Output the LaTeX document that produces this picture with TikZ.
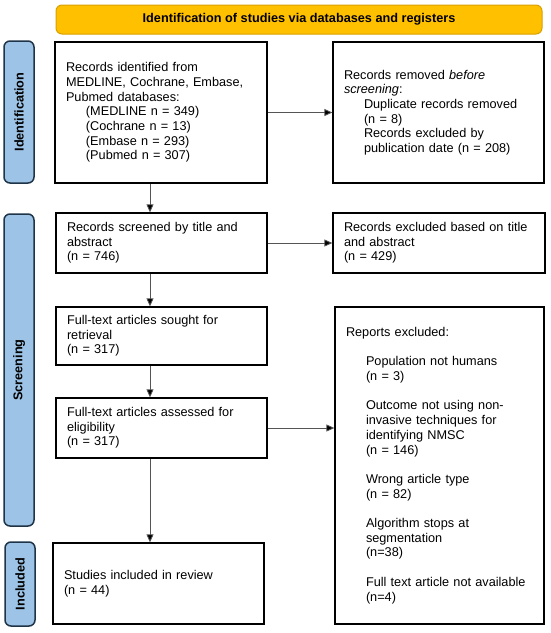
\documentclass[tikz,border=0pt]{standalone}
\usepackage{fontspec}
\setmainfont{Liberation Sans}
\usetikzlibrary{arrows.meta}
\definecolor{bannerfill}{HTML}{FFC000}
\definecolor{bannerdraw}{HTML}{D9A000}
\definecolor{sidefill}{HTML}{9DC3E6}
\definecolor{sidedraw}{HTML}{1F3447}
\definecolor{arrline}{HTML}{555555}
\newcommand{\ind}{\hspace*{20pt}}
\tikzset{
  box/.style={draw=black, line width=1.3pt, fill=white, rectangle, align=left,
    inner xsep=11pt, inner ysep=0pt, font=\fontsize{12.7}{14.7}\selectfont},
  sidebar/.style={draw=sidedraw, line width=1.5pt, fill=sidefill, rounded corners=6pt,
    inner sep=0pt, font=\bfseries\fontsize{12.7}{14.7}\selectfont},
  banner/.style={draw=bannerdraw, line width=1pt, fill=bannerfill, rounded corners=6pt,
    inner sep=0pt, font=\bfseries\fontsize{12.7}{14.7}\selectfont},
  arr/.style={draw=arrline, line width=0.8pt, -{Triangle[length=8pt,width=7pt,fill=black]}},
}
\begin{document}
\begin{tikzpicture}[x=1pt,y=-1pt]
\fill[white] (0,0) rectangle (550,633);
\useasboundingbox (0,0) rectangle (550,633);

\node[banner, minimum width=486pt, minimum height=29pt] (ban) at (299,19.5) {Identification of studies via databases and registers};

\node[sidebar, minimum width=30pt, minimum height=142pt] (sid1) at (19,112) {};
\node[rotate=90, font=\bfseries\fontsize{12.7}{14.7}\selectfont] (sid1t) at (sid1.center) {Identification};
\node[sidebar, minimum width=30pt, minimum height=312pt] (sid2) at (19,370) {};
\node[rotate=90, font=\bfseries\fontsize{12.7}{14.7}\selectfont] (sid2t) at (sid2.center) {Screening};
\node[sidebar, minimum width=30pt, minimum height=84pt] (sid3) at (20,584) {};
\node[rotate=90, font=\bfseries\fontsize{12.7}{14.7}\selectfont] (sid3t) at (sid3.center) {Included};

\node[box, minimum width=212pt, minimum height=141pt, text width=190pt] (A) at (161,112.5) {Records identified from\\
MEDLINE, Cochrane, Embase,\\
Pubmed databases:\\
\ind(MEDLINE n = 349)\\
\ind(Cochrane n = 13)\\
\ind(Embase n = 293)\\
\ind(Pubmed n = 307)};

\node[box, minimum width=211pt, minimum height=141pt, text width=189pt] (B) at (438.5,112.5) {Records removed \textit{before}\\
\textit{screening}:\\
\ind Duplicate records removed\\
\ind(n = 8)\\
\ind Records excluded by\\
\ind publication date (n = 208)};

\node[box, minimum width=211pt, minimum height=60pt, text width=189pt] (C) at (161.5,243) {Records screened by title and\\
abstract\\
(n = 746)};

\node[box, minimum width=212pt, minimum height=60pt, text width=190pt] (D) at (439,243) {Records excluded based on title\\
and abstract\\
(n = 429)};

\node[box, minimum width=211pt, minimum height=58pt, text width=189pt] (E) at (161.5,336) {Full-text articles sought for\\
retrieval\\
(n = 317)};

\node[box, minimum width=211pt, minimum height=60pt, text width=189pt] (G) at (161.5,428) {Full-text articles assessed for\\
eligibility\\
(n = 317)};

\node[box, minimum width=209pt, minimum height=317pt, text width=187pt] (F) at (439.5,465.5) {Reports excluded:\\[14.7pt]
\ind Population not humans\\
\ind(n = 3)\\[14.7pt]
\ind Outcome not using non-\\
\ind invasive techniques for\\
\ind identifying NMSC\\
\ind(n = 146)\\[14.7pt]
\ind Wrong article type\\
\ind(n = 82)\\[14.7pt]
\ind Algorithm stops at\\
\ind segmentation\\
\ind(n=38)\\[14.7pt]
\ind Full text article not available\\
\ind(n=4)};

\node[box, minimum width=211pt, minimum height=81pt, text width=189pt] (H) at (158.5,583.5) {Studies included in review\\
(n = 44)};

\coordinate (col) at (150,0);
\draw[arr] (A.south -| col) -- (C.north -| col);
\draw[arr] (C.south -| col) -- (E.north -| col);
\draw[arr] (E.south -| col) -- (G.north -| col);
\draw[arr] (G.south -| col) -- (H.north -| col);
\draw[arr] (A.east) -- (B.west);
\draw[arr] (C.east) -- (D.west);
\draw[arr] (G.east) -- (G.east -| F.west);
\end{tikzpicture}
\end{document}
